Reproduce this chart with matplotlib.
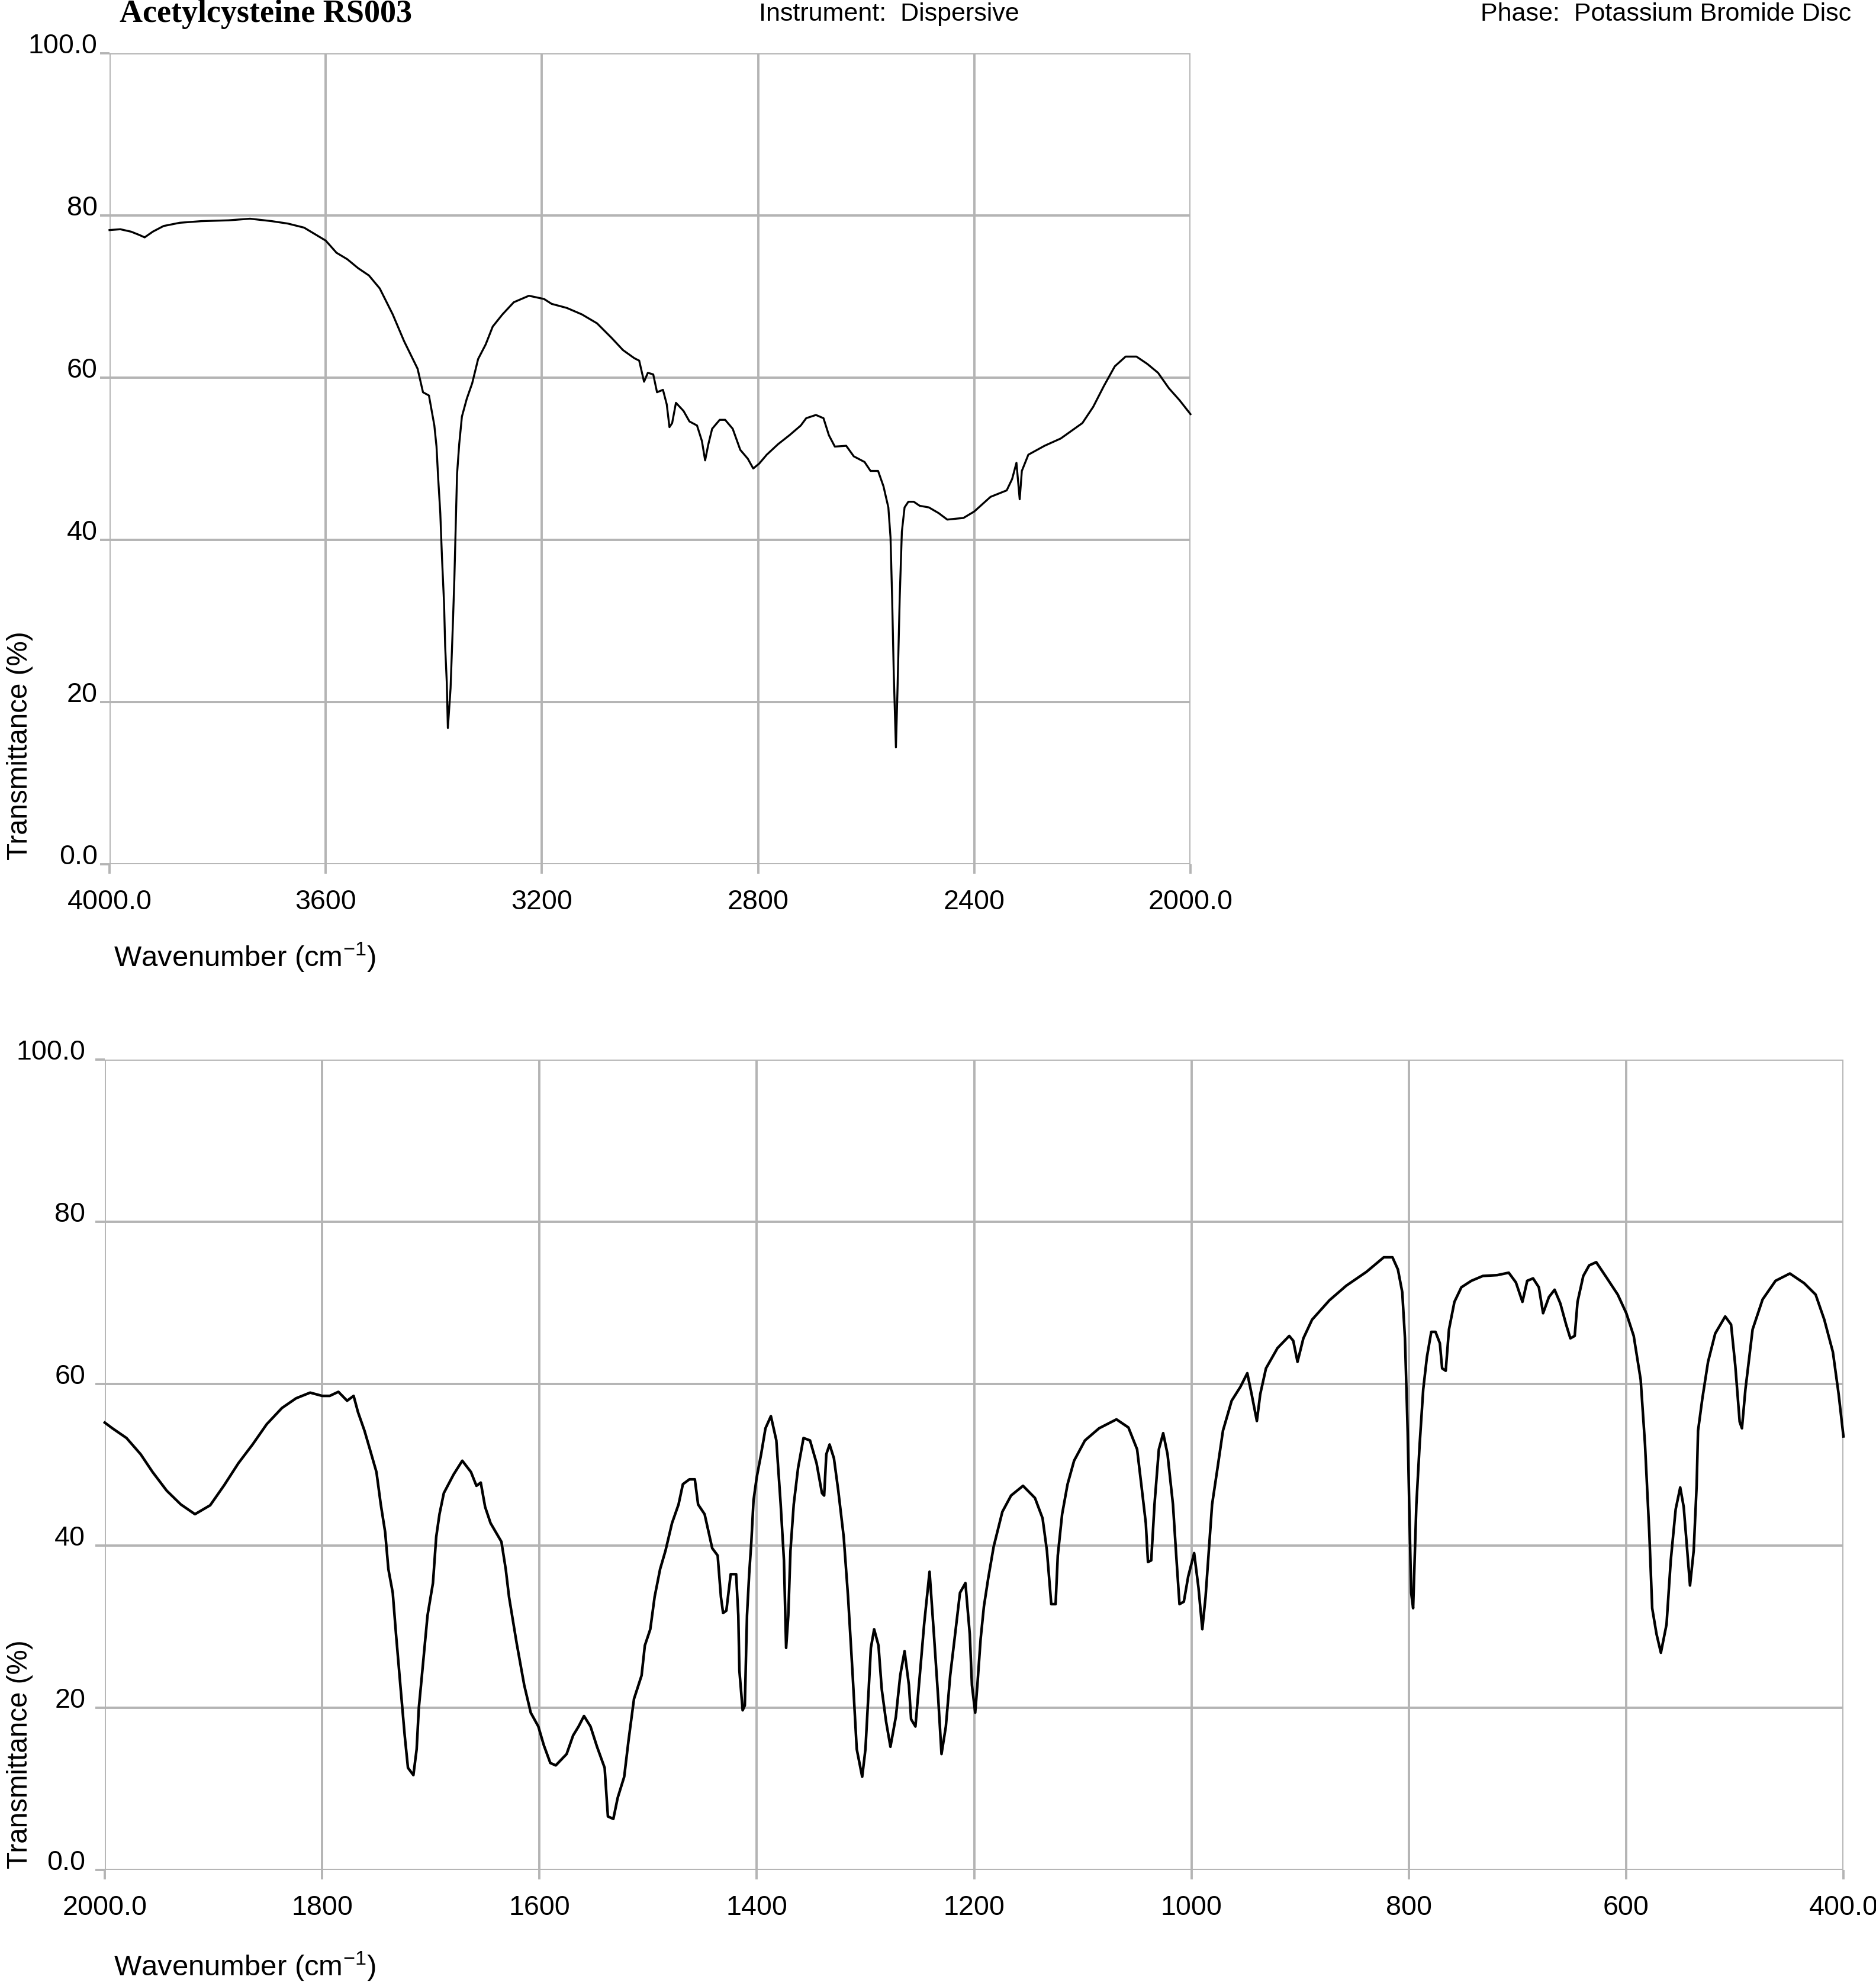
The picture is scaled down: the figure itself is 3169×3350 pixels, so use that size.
import matplotlib
matplotlib.use("Agg")
import matplotlib.pyplot as plt
from matplotlib import font_manager

# ---- spectrum (wavenumber cm-1, %T) ----
top_wn = [4000, 3980, 3960, 3945, 3935, 3920, 3900, 3870, 3830, 3780, 3740, 3700,
          3670, 3640, 3620, 3600, 3580, 3560, 3540, 3520, 3500, 3476, 3455, 3430,
          3420, 3409, 3399, 3395, 3392, 3388, 3385, 3381, 3379, 3376, 3374, 3369,
          3365, 3362, 3360, 3357, 3353, 3348, 3339, 3329, 3318, 3304, 3291, 3273,
          3252, 3224, 3196, 3182, 3154, 3126, 3098, 3071, 3050, 3029, 3020, 3011,
          3004, 2994, 2987, 2976, 2969, 2964, 2959, 2952, 2938, 2927, 2913, 2904,
          2898, 2892, 2885, 2871, 2861, 2847, 2833, 2819, 2809, 2798, 2784, 2763,
          2742, 2721, 2711, 2693, 2679, 2669, 2658, 2637, 2623, 2603, 2592, 2578,
          2568, 2559, 2555, 2552, 2549, 2545, 2542, 2538, 2534, 2529, 2522, 2512,
          2501, 2484, 2466, 2450, 2420, 2400, 2370, 2340, 2330, 2322, 2316, 2312,
          2300, 2270, 2240, 2200, 2180, 2160, 2140, 2120, 2100, 2080, 2060, 2040,
          2020, 2000]
top_t = [78.2, 78.3, 78.0, 77.6, 77.3, 78.0, 78.7, 79.1, 79.3, 79.4, 79.6, 79.3,
         79.0, 78.5, 77.7, 76.9, 75.4, 74.6, 73.5, 72.6, 71.0, 67.8, 64.5, 61.1,
         58.2, 57.8, 54.1, 51.5, 47.7, 43.3, 38.0, 32.1, 26.9, 22.4, 16.8, 21.7,
         29.1, 35.1, 40.3, 48.1, 51.8, 55.2, 57.4, 59.3, 62.3, 64.1, 66.3, 67.8,
         69.3, 70.1, 69.7, 69.1, 68.6, 67.8, 66.7, 64.9, 63.4, 62.4, 62.1, 59.5,
         60.6, 60.4, 58.2, 58.5, 56.7, 53.9, 54.4, 56.9, 55.9, 54.6, 54.1, 52.2,
         49.8, 51.8, 53.7, 54.8, 54.8, 53.7, 51.1, 50.0, 48.8, 49.4, 50.5, 51.8,
         52.9, 54.1, 55.0, 55.4, 55.0, 52.9, 51.5, 51.6, 50.3, 49.6, 48.5, 48.5,
         46.6, 44.0, 40.3, 32.8, 23.5, 14.4, 21.7, 32.8, 41.0, 44.0, 44.7, 44.7,
         44.2, 44.0, 43.3, 42.5, 42.7, 43.5, 45.3, 46.1, 47.5, 49.5, 45.0, 48.5,
         50.5, 51.6, 52.5, 54.4, 56.4, 59.0, 61.4, 62.6, 62.6, 61.7, 60.6, 58.7,
         57.2, 55.5]

bot_wn = [2000, 1993, 1980, 1967, 1956, 1943, 1930, 1917, 1903, 1890, 1877, 1864,
          1851, 1837, 1824, 1811, 1800, 1793, 1785, 1777, 1771, 1767, 1761, 1756,
          1750, 1746, 1742, 1739, 1735, 1732, 1728, 1724, 1721, 1716, 1713, 1711,
          1709, 1705, 1703, 1698, 1695, 1692, 1688, 1679, 1671, 1663, 1658, 1654,
          1650, 1645, 1635, 1631, 1628, 1621, 1614, 1608, 1601, 1596, 1590, 1585,
          1580, 1575, 1569, 1564, 1559, 1553, 1547, 1540, 1537, 1532, 1528, 1522,
          1518, 1513, 1506, 1503, 1498, 1494, 1489, 1484, 1478, 1472, 1468, 1462,
          1457, 1454, 1448, 1441, 1436, 1433, 1431, 1428, 1424, 1419, 1417, 1416,
          1413, 1411, 1409, 1407, 1405, 1403, 1400, 1396, 1392, 1387, 1382, 1378,
          1375, 1373, 1371, 1369, 1366, 1362, 1357, 1351, 1345, 1340, 1338, 1336,
          1333, 1329, 1325, 1320, 1316, 1312, 1308, 1303, 1300, 1297, 1295, 1292,
          1288, 1285, 1281, 1277, 1272, 1268, 1264, 1260, 1258, 1254, 1250, 1246,
          1241, 1237, 1233, 1230, 1226, 1222, 1218, 1213, 1208, 1204, 1202, 1199,
          1197, 1194, 1191, 1187, 1182, 1174, 1166, 1155, 1144, 1137, 1133, 1129,
          1125, 1123, 1119, 1114, 1108, 1098, 1085, 1069, 1058, 1050, 1046, 1042,
          1040, 1037, 1034, 1030, 1026, 1022, 1017, 1014, 1011, 1007, 1003, 997.5,
          993.5, 990, 987, 984, 981, 976, 971, 963, 955, 948.6, 944.6, 939.8,
          936.7, 931.4, 920.8, 910, 906.3, 902.4, 897, 889, 873, 857.5, 839, 823,
          815, 810, 806, 803.5, 801, 799.5, 797.8, 796, 793, 790, 786.7, 783.3,
          779.3, 775.4, 771.4, 769.3, 766, 763, 758, 751.6, 742.4, 731.8, 718.6, 708,
          701.4, 695.4, 691, 685.6, 680.3, 676.4, 671, 665.8, 660.5, 655.2, 651.3, 647.3,
          644.7, 639.4, 634, 627.5, 618, 607.7, 599.8, 593, 586.6, 582.6, 578.7, 576,
          572, 568, 562.8, 558.9, 554.4, 550.2, 547, 544.4, 541.2, 537.8, 535.1, 533.8,
          529.8, 524.6, 518, 508.8, 503.4, 499.5, 495.5, 493.4, 490.2, 483.6, 474.4, 462.5,
          449.3, 436.1, 425.6, 417.6, 409.7, 404.4, 400]
bot_t = [55.2, 54.5, 53.3, 51.3, 49.1, 46.8, 45.1, 43.9, 45.0, 47.5, 50.2, 52.5,
         55.0, 57.0, 58.2, 58.9, 58.5, 58.5, 59.0, 57.9, 58.5, 56.5, 54.2, 51.9,
         49.1, 45.1, 41.7, 37.1, 34.2, 29.1, 22.8, 16.6, 12.6, 11.7, 14.9, 20.0,
         22.8, 28.5, 31.4, 35.4, 41.1, 43.9, 46.5, 48.8, 50.5, 49.1, 47.4, 47.8,
         44.8, 42.8, 40.5, 37.1, 33.7, 28.0, 22.8, 19.4, 17.7, 15.4, 13.2, 12.9,
         13.6, 14.3, 16.6, 17.7, 19.0, 17.7, 15.2, 12.6, 6.6, 6.3, 8.9, 11.5,
         16.0, 21.1, 24.0, 27.7, 29.7, 33.7, 37.1, 39.4, 42.8, 45.1, 47.6, 48.2,
         48.2, 45.1, 43.9, 39.7, 38.8, 33.7, 31.7, 32.0, 36.5, 36.5, 31.4, 24.6,
         19.7, 20.3, 31.4, 36.5, 40.5, 45.6, 48.5, 51.3, 54.5, 56.0, 53.0, 45.1,
         38.2, 27.4, 31.4, 39.4, 45.1, 49.6, 53.3, 53.0, 50.2, 46.5, 46.2, 51.3,
         52.5, 50.8, 46.8, 41.1, 33.7, 24.6, 14.9, 11.5, 14.9, 22.3, 27.4, 29.7,
         27.7, 22.3, 18.3, 15.2, 18.9, 24.0, 27.0, 22.8, 18.6, 17.7, 24.0, 30.3,
         36.8, 29.1, 21.1, 14.3, 17.7, 24.0, 28.5, 34.2, 35.4, 29.1, 22.8, 19.4,
         22.8, 28.5, 32.5, 36.0, 39.9, 44.2, 46.2, 47.4, 45.9, 43.4, 39.4, 32.8,
         32.8, 38.8, 43.9, 47.6, 50.5, 53.0, 54.5, 55.6, 54.6, 51.9, 47.4, 42.8,
         38.0, 38.2, 45.1, 51.9, 53.9, 51.3, 45.1, 38.8, 32.8, 33.1, 36.2, 39.1,
         34.8, 29.7, 33.7, 39.4, 45.1, 49.6, 54.2, 57.9, 59.6, 61.3, 58.7, 55.4,
         58.7, 61.9, 64.4, 65.9, 65.3, 62.7, 65.6, 67.9, 70.3, 72.1, 73.8, 75.6,
         75.6, 74.1, 71.3, 65.6, 54.0, 44.5, 34.2, 32.3, 45.1, 52.5, 59.3, 63.3,
         66.4, 66.4, 65.0, 61.9, 61.6, 66.7, 70.1, 71.9, 72.7, 73.3, 73.4, 73.7,
         72.5, 70.1, 72.7, 73.0, 71.9, 68.7, 70.7, 71.6, 69.9, 67.3, 65.6, 65.9,
         70.1, 73.3, 74.6, 75.0, 73.1, 71.0, 68.7, 65.9, 60.5, 52.5, 41.7, 32.3,
         29.1, 26.8, 30.3, 38.2, 44.5, 47.2, 44.8, 40.5, 35.1, 39.4, 47.4, 54.2,
         58.2, 62.7, 66.2, 68.3, 67.3, 62.2, 55.3, 54.5, 59.3, 66.7, 70.4, 72.7,
         73.6, 72.4, 71.0, 67.9, 63.9, 58.7, 53.5]

top_xticks = [4000, 3600, 3200, 2800, 2400, 2000]
top_xlabels = ["4000.0", "3600", "3200", "2800", "2400", "2000.0"]
bot_xticks = [2000, 1800, 1600, 1400, 1200, 1000, 800, 600, 400]
bot_xlabels = ["2000.0", "1800", "1600", "1400", "1200", "1000", "800", "600", "400.0"]
yticks = [0, 20, 40, 60, 80, 100]
ylabels = ["0.0", "20", "40", "60", "80", "100.0"]

title = "Acetylcysteine RS003"
instrument = "Instrument:  Dispersive"
phase = "Phase:  Potassium Bromide Disc"
xlabel = "Wavenumber (cm$^{-1}$)"
ylabel = "Transmittance (%)"


def pick_font(names):
    for n in names:
        try:
            font_manager.findfont(n, fallback_to_default=False)
            return n
        except ValueError:
            pass
    return "DejaVu Sans"


NARROW = pick_font(["Liberation Sans Narrow", "Arial Narrow"])
if NARROW == "DejaVu Sans":
    NARROW, shrink = pick_font(["Liberation Sans"]), 0.84
else:
    shrink = 1.0
SANS = pick_font(["Liberation Sans", "Arial"])
SERIF = pick_font(["Liberation Serif", "Times New Roman"])

plt.rcParams["font.family"] = [NARROW, "DejaVu Sans"]
plt.rcParams["mathtext.fontset"] = "custom"
plt.rcParams["mathtext.rm"] = NARROW
plt.rcParams["mathtext.default"] = "regular"

W, H = 3169, 3350
GRID = "#b4b4b4"
TICK_FS = 40 * shrink
LAB_FS = 42 * shrink

fig = plt.figure(figsize=(W / 100, H / 100), dpi=100)


def add_axes(l, r, t, b):
    return fig.add_axes([l / W, 1 - b / H, (r - l) / W, (b - t) / H])


def style(ax, xlim, xt, xl, ypad):
    ax.set_xlim(*xlim)
    ax.set_ylim(0, 100)
    ax.set_xticks(xt)
    ax.set_xticklabels(xl)
    ax.set_yticks(yticks)
    ax.set_yticklabels(ylabels)
    for s in ax.spines.values():
        s.set_visible(False)
    ax.grid(True, color=GRID, lw=2.8)
    ax.set_axisbelow(True)
    ax.tick_params(length=11.5, width=2.8, color=GRID, labelsize=TICK_FS)
    ax.tick_params(axis="x", pad=19)
    ax.tick_params(axis="y", pad=ypad)
    plt.setp(ax.get_yticklabels(), va="baseline")


# top panel 4000-2000
ax1 = add_axes(185, 2011, 90, 1460)
ax1.plot(top_wn, top_t, color="black", lw=2.4, clip_on=False)
style(ax1, (4000, 2000), top_xticks, top_xlabels, 3)

# bottom panel 2000-400
ax2 = add_axes(177, 3114, 1790, 3159)
ax2.plot(bot_wn, bot_t, color="black", lw=3.2, clip_on=False)
style(ax2, (2000, 400), bot_xticks, bot_xlabels, 12)

# axis titles
for base_y in (1633, 3338):
    fig.text(192 / W, 1 - base_y / H, xlabel, fontsize=LAB_FS, ha="left", va="baseline")
for start_y in (1453, 3157):
    fig.text(46 / W, 1 - start_y / H, ylabel, fontsize=LAB_FS * 0.97, rotation=90,
             rotation_mode="anchor", ha="left", va="baseline")

# header
fig.text(202 / W, 1 - 37 / H, title, fontsize=39, family=SERIF, weight="bold",
         ha="left", va="baseline")
fig.text(1282 / W, 1 - 35 / H, instrument, fontsize=31, family=SANS,
         ha="left", va="baseline")
fig.text(3127 / W, 1 - 35 / H, phase, fontsize=31, family=SANS,
         ha="right", va="baseline")

fig.savefig("out.png", dpi=100, facecolor="white")
